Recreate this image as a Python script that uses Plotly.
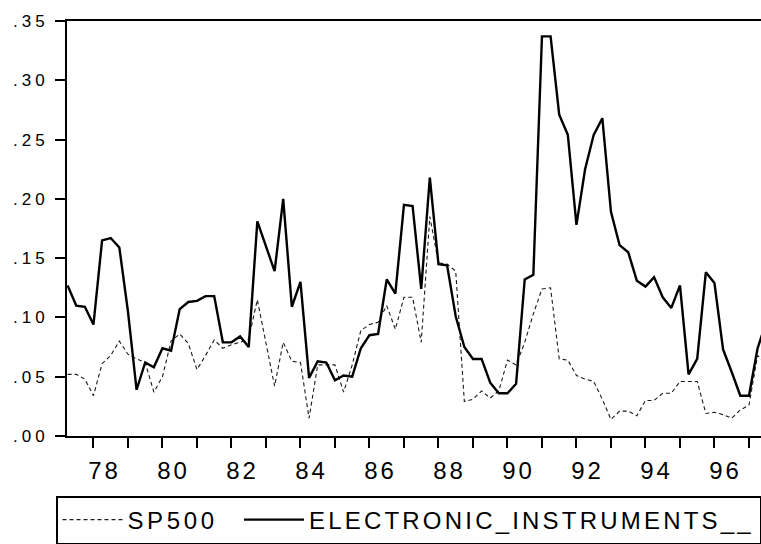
import plotly.graph_objects as go

# Quarterly observations, first one in 1977 Q2
start_year = 1977.25
sp500 = [0.052, 0.052, 0.048, 0.034, 0.061, 0.068, 0.080, 0.069, 0.065, 0.062,
         0.037, 0.050, 0.080, 0.086, 0.078, 0.056, 0.068, 0.081, 0.074, 0.077,
         0.079, 0.082, 0.115, 0.079, 0.042, 0.079, 0.063, 0.062, 0.015, 0.060,
         0.060, 0.060, 0.037, 0.060, 0.089, 0.094, 0.096, 0.110, 0.090, 0.117,
         0.117, 0.079, 0.185, 0.146, 0.145, 0.139, 0.029, 0.031, 0.038, 0.032,
         0.038, 0.064, 0.060, 0.079, 0.103, 0.124, 0.125, 0.065, 0.064, 0.051,
         0.048, 0.046, 0.031, 0.014, 0.021, 0.021, 0.017, 0.030, 0.030, 0.036,
         0.036, 0.046, 0.046, 0.046, 0.019, 0.020, 0.018, 0.015, 0.022, 0.026,
         0.068, 0.060]
electronic = [0.127, 0.110, 0.109, 0.094, 0.165, 0.167, 0.159, 0.105, 0.039, 0.062,
              0.058, 0.074, 0.072, 0.107, 0.113, 0.114, 0.118, 0.118, 0.079, 0.079,
              0.084, 0.075, 0.181, 0.160, 0.139, 0.200, 0.109, 0.130, 0.049, 0.063,
              0.062, 0.047, 0.051, 0.050, 0.074, 0.085, 0.086, 0.132, 0.120, 0.195,
              0.194, 0.124, 0.218, 0.145, 0.144, 0.101, 0.075, 0.065, 0.065, 0.045,
              0.036, 0.036, 0.044, 0.132, 0.136, 0.337, 0.337, 0.271, 0.254, 0.178,
              0.225, 0.254, 0.268, 0.189, 0.161, 0.155, 0.131, 0.126, 0.134, 0.117,
              0.108, 0.127, 0.052, 0.065, 0.138, 0.129, 0.073, 0.054, 0.034, 0.034,
              0.074, 0.096]
x_years = [start_year + 0.25 * i for i in range(len(sp500))]

year_ticks = list(range(1978, 1998))
label_years = list(range(1978, 1997, 2))
label_text = ["%02d" % (y % 100) for y in label_years]
y_ticks = [0.00, 0.05, 0.10, 0.15, 0.20, 0.25, 0.30, 0.35]
y_text = [".00", ".05", ".10", ".15", ".20", ".25", ".30", ".35"]

FONT = "Liberation Sans, Arial, sans-serif"


def spaced(s, px):
    return '<span style="letter-spacing:%spx">%s</span>' % (px, s)


sp_name = spaced("SP50", 3.6) + spaced("0", 20)
el_name = spaced("ELECTRONIC_INSTRUMENTS__", 3.2)

fig = go.Figure()
fig.add_trace(go.Scatter(
    x=x_years, y=sp500, mode="lines", name=sp_name,
    line=dict(color="#1a1a1a", width=1.1, dash="4px,3px")))
fig.add_trace(go.Scatter(
    x=x_years, y=electronic, mode="lines", name=el_name,
    line=dict(color="black", width=2.4)))

fig.update_layout(
    width=761, height=544,
    margin=dict(l=67, r=0, t=21, b=102),
    paper_bgcolor="white", plot_bgcolor="white",
    font=dict(family=FONT, color="black"),
    showlegend=True,
    hovermode=False,
    legend=dict(orientation="h", x=-0.006, xanchor="left", y=-0.145, yanchor="top",
                bordercolor="black", borderwidth=1.5, bgcolor="white",
                font=dict(family=FONT, size=24, color="black"),
                itemwidth=60, traceorder="normal"),
)
fig.update_xaxes(
    range=[1977.233, 1997.349],
    showgrid=False, zeroline=False,
    showline=True, linecolor="black", linewidth=2, mirror=True,
    tickmode="array",
    tickvals=[y + 0.32 for y in label_years],
    ticktext=[spaced(t, 3) for t in label_text],
    ticks="outside", ticklen=10, tickcolor="rgba(0,0,0,0)",
    ticklabelstandoff=2,
    tickfont=dict(family=FONT, size=24, color="black"),
    minor=dict(tickmode="array", tickvals=year_ticks, ticks="outside",
               ticklen=10, tickwidth=1.5, tickcolor="black", showgrid=False),
)
fig.update_yaxes(
    range=[0, 0.35],
    showgrid=False, zeroline=False,
    showline=True, linecolor="black", linewidth=2, mirror=False,
    tickmode="array", tickvals=y_ticks,
    ticktext=[spaced(t, 4) for t in y_text],
    ticks="outside", ticklen=10, tickwidth=1.5, tickcolor="black",
    ticklabelstandoff=3,
    tickfont=dict(family=FONT, size=17, color="black"),
)

fig.write_html("out.html", config={"displayModeBar": False},
               post_script="document.body.style.margin='0';")
